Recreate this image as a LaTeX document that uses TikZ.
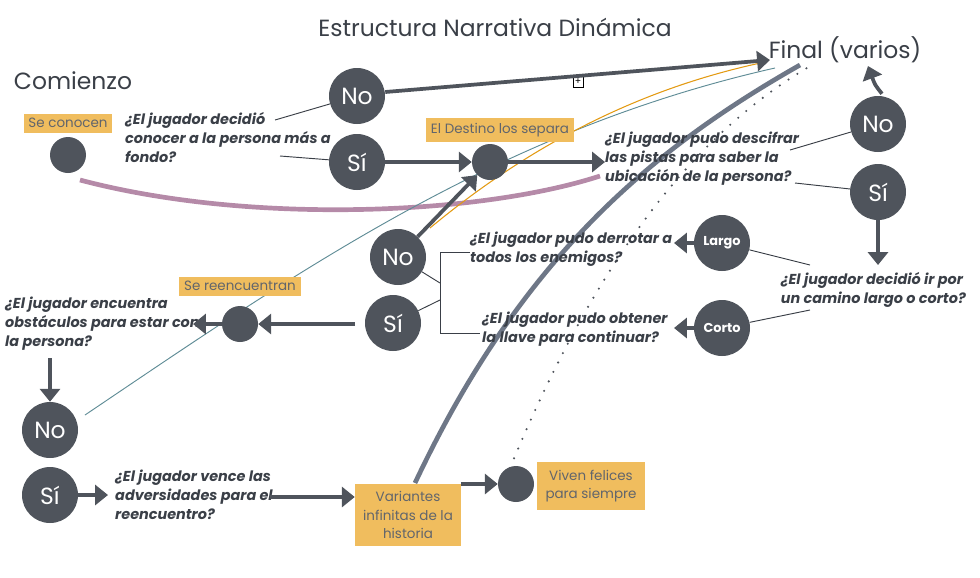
\documentclass[tikz,border=0pt]{standalone}
\usepackage{fontspec}
\setmainfont{Poppins}
\usetikzlibrary{arrows.meta,positioning}
\definecolor{dot}{HTML}{4F545C}
\definecolor{caja}{HTML}{F0BD5E}
\definecolor{texto}{HTML}{3A3F47}
\definecolor{hilo}{HTML}{6E7787}
\definecolor{lila}{HTML}{B58AA8}
\definecolor{teal}{HTML}{5F8C96}
\definecolor{oro}{HTML}{E39A12}
\tikzset{
	dec/.style={circle, fill=dot, text=white, minimum size=56\unitlength, inner sep=0pt, font=\fontsize{20}{20}\selectfont},
	paso/.style={circle, fill=dot, minimum size=36\unitlength, inner sep=0pt},
	via/.style={circle, fill=dot, text=white, minimum size=56\unitlength, inner sep=0pt, font=\bfseries\fontsize{11}{11}\selectfont},
	etiq/.style={fill=caja, text=texto!80, inner sep=4pt, font=\fontsize{11.5}{16}\selectfont, align=center},
	preg/.style={text=texto, font=\bfseries\itshape\fontsize{12.3}{16.3}\selectfont, align=left, inner sep=0pt},
	flecha/.style={dot, line width=3.2pt, -{Triangle[length=11pt,width=17pt]}},
	raya/.style={texto, line width=0.8pt},
}
\setlength{\unitlength}{0.03cm}
\begin{document}
\begin{tikzpicture}[x=0.03cm,y=-0.03cm]
	\useasboundingbox (0,0) rectangle (980,577);
	% titulos
	\node[text=texto, font=\fontsize{20}{20}\selectfont] (titulo) at (495,27) {Estructura Narrativa Dinámica};
	\node[text=texto, font=\fontsize{20}{20}\selectfont] (final) at (845,50) {Final (varios)};
	\node[text=texto, font=\fontsize{20}{20}\selectfont] (comienzo) at (73,81) {Comienzo};
	% hilos de fondo
	\draw[lila, line width=4pt] (80,180) .. controls (250,225) and (480,215) .. (600,176);
	\draw[teal, line width=0.8pt] (85,415) .. controls (300,270) and (500,130) .. (775,68);
	\draw[oro, line width=0.9pt] (430,228) .. controls (560,120) and (680,80) .. (765,62);
	\draw[hilo, line width=4pt] (415,483) .. controls (520,260) and (650,150) .. (800,65);
	\draw[dot, line width=2pt, line cap=round, dash pattern=on 0pt off 9pt] (510,468) .. controls (600,250) and (700,130) .. (812,65);
	\node[draw, fill=white, inner sep=0pt, minimum size=9pt, font=\fontsize{8}{8}\selectfont] (marca) at (578,82) {+};
	% inicio
	\node[etiq] (conocen) at (68,123) {Se conocen};
	\node[paso] (c0) at (68,155) {};
	\node[preg, anchor=north west] (q1) at (125,112) {¿El jugador decidió\\conocer a la persona más a\\fondo?};
	\node[dec] (no1) at (357,96) {No};
	\node[dec] (si1) at (357,162) {Sí};
	\coordinate (q1a) at (275,120);
	\coordinate (q1b) at (280,156);
	\draw[raya] (q1a) -- (no1);
	\draw[raya] (q1b) -- (si1);
	\coordinate (fin1) at (770,60);
	\draw[flecha] (no1.east) ++(0,-4) -- (fin1);
	% destino
	\node[paso] (c1) at (490,162) {};
	\node[etiq] (destino) at (500,130) {El Destino los separa};
	\draw[flecha] (si1) -- (c1);
	\node[preg, anchor=north west] (q2) at (605,132) {¿El jugador pudo descifrar\\las pistas para saber la\\ubicación de la persona?};
	\draw[flecha] (c1) -- (q2.west |- c1);
	\node[dec] (no2) at (878,124) {No};
	\node[dec] (si2) at (878,192) {Sí};
	\coordinate (q2a) at (790,150);
	\coordinate (q2b) at (795,183);
	\draw[raya] (q2a) -- (no2);
	\draw[raya] (q2b) -- (si2);
	\coordinate (fin2) at (868,66);
	\draw[flecha] (no2.north) ++(4,-2) .. controls (875,85) .. (fin2);
	% camino
	\node[preg, anchor=north east] (q3) at (966,272) {¿El jugador decidió ir por\\un camino largo o corto?};
	\coordinate (q3top) at (878,265);
	\draw[flecha] (si2) -- (q3top);
	\node[via] (largo) at (722,243) {Largo};
	\node[via] (corto) at (722,328) {Corto};
	\coordinate (q3a) at (810,265);
	\coordinate (q3b) at (810,310);
	\draw[raya] (q3a) -- (largo);
	\draw[raya] (q3b) -- (corto);
	\node[preg, anchor=north west] (q4) at (470,232) {¿El jugador pudo derrotar a\\todos los enemigos?};
	\node[preg, anchor=north west] (q5) at (482,312) {¿El jugador pudo obtener\\la llave para continuar?};
	\coordinate (q4e) at (674,243);
	\coordinate (q5e) at (674,328);
	\draw[flecha] (largo) -- (q4e);
	\draw[flecha] (corto) -- (q5e);
	\draw[raya] (470,252) -- (440,252) -- (440,333) -- (480,333);
	\node[dec] (no3) at (398,257) {No};
	\node[dec] (si3) at (393,323) {Sí};
	\draw[raya] (no3) -- (440,283);
	\draw[raya] (si3) -- (440,300);
	\draw[flecha] (no3) -- (c1);
	% reencuentro
	\node[paso] (c2) at (240,324) {};
	\node[etiq] (reen) at (240,286) {Se reencuentran};
	\coordinate (si3w) at (355,324);
	\draw[flecha] (si3w) -- (c2);
	\node[preg, anchor=north west] (q6) at (5,297) {¿El jugador encuentra\\obstáculos para estar con\\la persona?};
	\coordinate (q6e) at (193,324);
	\draw[flecha] (c2) -- (q6e);
	\node[dec] (no4) at (50,430) {No};
	\node[dec] (si4) at (50,495) {Sí};
	\coordinate (q6s) at (50,358);
	\draw[flecha] (q6s) -- (no4);
	\node[preg, anchor=north west] (q7) at (115,470) {¿El jugador vence las\\adversidades para el\\reencuentro?};
	\coordinate (q7w) at (108,495);
	\draw[flecha] (si4) -- (q7w);
	\node[etiq, minimum width=106\unitlength, minimum height=62\unitlength] (variantes) at (408,515) {Variantes\\infinitas de la\\historia};
	\coordinate (q7e) at (270,497);
	\draw[flecha] (q7e) -- (variantes.west |- q7e);
	\node[paso] (c3) at (516,484) {};
	\node[etiq, minimum width=108\unitlength, minimum height=48\unitlength] (felices) at (591,486) {Viven felices\\para siempre};
	\draw[flecha] (variantes.east |- c3) -- (c3);
\end{tikzpicture}
\end{document}
